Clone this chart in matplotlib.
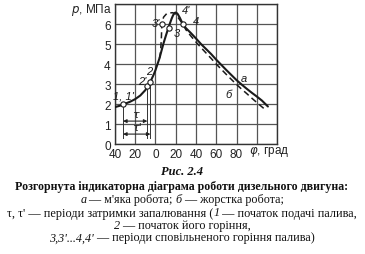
import matplotlib
matplotlib.use("Agg")
import matplotlib.pyplot as plt

# ---- data ----
phi_a = [-40, -35, -30, -25, -20, -15, -10, -8, -5, -2, 0, 2, 4, 6, 8, 10, 12, 14, 16, 17, 18,
         19, 20, 21, 22, 24, 27, 30, 35, 40, 45, 50, 55, 60, 65, 70, 75, 80, 85, 90, 95, 100,
         105, 111]
p_a = [1.85, 1.92, 2.02, 2.12, 2.25, 2.43, 2.7, 2.88, 3.12, 3.45, 3.7, 4.0, 4.3, 4.68, 5.05,
       5.38, 5.7, 6.0, 6.28, 6.4, 6.5, 6.56, 6.58, 6.55, 6.5, 6.32, 6.0, 5.8, 5.55, 5.28, 5.0,
       4.75, 4.5, 4.22, 3.96, 3.7, 3.45, 3.2, 2.98, 2.77, 2.57, 2.38, 2.18, 1.88]

phi_b = [4, 5, 5.8, 6.3, 8, 11, 14, 17, 20, 23, 27, 30, 35, 40, 45, 50, 55, 60, 65, 70, 75, 80,
         85, 90, 95, 100, 107]
p_b = [4.3, 4.6, 5.3, 6.0, 6.35, 6.52, 6.56, 6.57, 6.5, 6.28, 6.0, 5.72, 5.4, 5.1, 4.82, 4.55,
       4.28, 4.0, 3.74, 3.48, 3.23, 2.98, 2.75, 2.53, 2.3, 2.08, 1.78]

pt_phi = [-32, -8, -5, 6.3, 13, 27]
pt_p = [2.0, 2.9, 3.1, 6.0, 5.8, 6.0]

lbl_text = ["1, 1'", "2'", "2", "3'", "3", "4'", "4", "а", "б"]
lbl_phi = [-32, -13, -6.5, 0, 21, 30, 40, 87, 72]
lbl_p = [2.42, 3.15, 3.65, 6.07, 5.57, 6.7, 6.15, 3.3, 2.5]

x_tick_labels = ["40", "20", "0", "20", "40", "60", "80"]
y_tick_labels = ["0", "1", "2", "3", "4", "5", "6"]

tau_start = -32
tau_end = -8
tau2_end = -5
tau_y = 1.15
tau2_y = 0.5

# caption lines: (text, italic?) segments
caption_lines = [
    [("Розгорнута індикаторна діаграма роботи дизельного двигуна:", 'b')],
    [("а", 'i'), (" — м'яка робота; ", 'n'), ("б", 'i'), (" — жорстка робота;", 'n')],
    [("τ, τ' — періоди затримки запалювання (", 'n'), ("1", 'i'),
     (" — початок подачі палива,", 'n')],
    [("2", 'i'), (" — початок його горіння,", 'n')],
    [("3,3'...4,4'", 'i'), (" — періоди сповільненого горіння палива)", 'n')],
]

fig = plt.figure(figsize=(3.65, 2.55), dpi=100)
fig.patch.set_facecolor('white')
ax = fig.add_axes([0.315, 0.431, 0.444, 0.549])

ax.set_xlim(-40, 120)
ax.set_ylim(0, 7)
ax.set_xticks(list(range(-40, 121, 20)))
ax.set_xticklabels(x_tick_labels + ["", ""])
ax.set_yticks(list(range(0, 8)))
ax.set_yticklabels(y_tick_labels + [""])
ax.tick_params(length=0, pad=3, labelsize=8.5, colors='#222222')
for lab in ax.get_xticklabels() + ax.get_yticklabels():
    lab.set_family('Liberation Sans')
ax.grid(True, color='#555555', linewidth=0.9)
ax.set_axisbelow(True)
for s in ax.spines.values():
    s.set_color('#333333')
    s.set_linewidth(1.0)

# vertical guide lines and tau arrows
ax.plot([tau_start, tau_start], [0.3, pt_p[0]], color='#333333', lw=0.7)
ax.plot([tau_end, tau_end], [0.3, pt_p[1]], color='#333333', lw=0.7)
ax.plot([tau2_end, tau2_end], [0.3, pt_p[2]], color='#333333', lw=0.7)
ax.annotate("", xy=(tau_end, tau_y), xytext=(tau_start, tau_y),
            arrowprops=dict(arrowstyle='<|-|>', color='#222222', lw=0.8,
                            mutation_scale=5, shrinkA=0, shrinkB=0))
ax.annotate("", xy=(tau2_end, tau2_y), xytext=(tau_start, tau2_y),
            arrowprops=dict(arrowstyle='<|-|>', color='#222222', lw=0.8,
                            mutation_scale=5, shrinkA=0, shrinkB=0))
ax.text((tau_start + tau_end) / 2, tau_y + 0.08, "τ", ha='center', va='bottom',
        fontsize=8, family='DejaVu Sans', style='italic', color='#222222')
ax.text((tau_start + tau2_end) / 2, tau2_y + 0.08, "τ'", ha='center', va='bottom',
        fontsize=8, family='DejaVu Sans', style='italic', color='#222222')

# curves
ax.plot(phi_a, p_a, color='#1a1a1a', lw=1.5, solid_capstyle='round', zorder=3)
ax.plot(phi_b, p_b, color='#1a1a1a', lw=1.1, ls=(0, (4, 2.5)), zorder=3)
ax.plot(pt_phi, pt_p, ls='none', marker='o', ms=3.8, mfc='white', mec='#1a1a1a',
        mew=0.8, zorder=4)

for t, x, y in zip(lbl_text, lbl_phi, lbl_p):
    ax.text(x, y, t, ha='center', va='center', fontsize=8, family='Liberation Sans',
            style='italic', color='#1a1a1a', zorder=5)

# axis labels
fig.text(112 / 365, 1 - 10 / 255, r"$p$, МПа", ha='right', va='center', fontsize=8.5,
         family='Liberation Sans', math_fontfamily='dejavusans', color='#222222')
fig.text(249 / 365, 1 - 152 / 255, r"$\varphi$, град", ha='left', va='center', fontsize=8.5,
         family='Liberation Sans', math_fontfamily='dejavusans', color='#222222')

# caption
fig.text(182 / 365, 1 - 172 / 255, "Рис. 2.4", ha='center', va='center', fontsize=9,
         family='Liberation Serif', weight='bold', style='italic', color='#111111')

renderer = fig.canvas.get_renderer()
W, H = 365.0, 255.0
ys = [186, 199, 212, 224.5, 237]
sizes = [8.6, 8.7, 8.8, 8.7, 8.7]
for segs, y, fs in zip(caption_lines, ys, sizes):
    kws = []
    widths = []
    for text, st in segs:
        kw = dict(fontsize=fs, family='Liberation Serif', color='#111111',
                  weight='bold' if st == 'b' else 'normal',
                  style='italic' if st == 'i' else 'normal')
        t = fig.text(0, 0, text, **kw)
        widths.append(t.get_window_extent(renderer).width)
        t.remove()
        kws.append(kw)
    total = sum(widths)
    x = 182 - total / 2
    for (text, st), w, kw in zip(segs, widths, kws):
        fig.text(x / W, 1 - y / H, text, ha='left', va='center_baseline', **kw)
        x += w

fig.savefig("out.png", dpi=100)
